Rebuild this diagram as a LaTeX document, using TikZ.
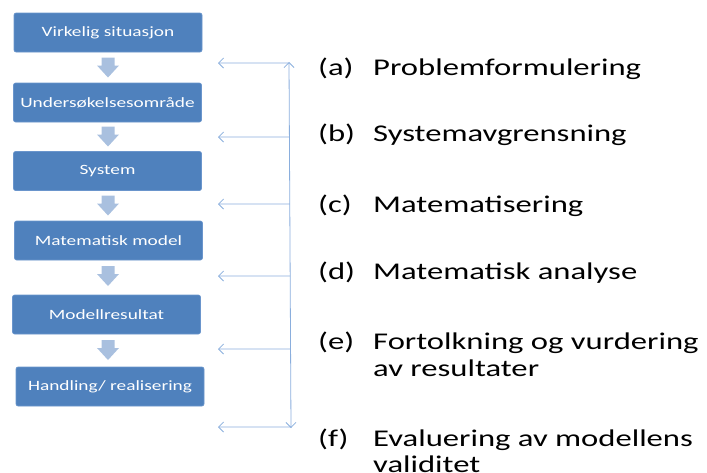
\documentclass[tikz,border=0pt]{standalone}
\usepackage{fontspec}
\setmainfont{Carlito}[FakeStretch=1.36]
\usetikzlibrary{arrows.meta,calc}
\definecolor{boxblue}{HTML}{4F81BD}
\definecolor{boxedge}{HTML}{6A95CC}
\definecolor{blockarr}{HTML}{A9C0DF}
\definecolor{linkblue}{HTML}{8AAEDD}
\tikzset{
  stagebox/.style={fill=boxblue, draw=boxedge, line width=0.6pt, rounded corners=2pt,
    minimum width=188pt, minimum height=39pt, inner sep=0pt, text=white,
    font=\fontsize{14.2}{16}\selectfont},
  blockfill/.style={fill=blockarr},
  link/.style={draw=linkblue, line width=0.8pt},
  linkarrow/.style={link, -{Straight Barb[length=5pt,width=10pt]}},
  lbl/.style={anchor=base west, inner sep=0pt, font=\fontsize{24}{27}\selectfont}
}
% block arrow: top centre coordinate name
\newcommand{\blockdown}[1]{%
  \fill[blockfill] ($(#1)+(-6.5,0)$) -- ($(#1)+(6.5,0)$) -- ($(#1)+(6.5,8)$) -- ($(#1)+(11,8)$)
    -- ($(#1)+(0,20)$) -- ($(#1)+(-11,8)$) -- ($(#1)+(-6.5,8)$) -- cycle;}
\begin{document}
\begin{tikzpicture}[x=1pt,y=-1pt]
\useasboundingbox (0,0) rectangle (707,472);
\clip (0,0) rectangle (707,472);
% stage boxes
\node[stagebox] (b1) at (108,32.5) {Virkelig situasjon};
\node[stagebox] (b2) at (107.5,102.5) {Undersøkelsesområde};
\node[stagebox] (b3) at (107.5,171) {System};
\node[stagebox] (b4) at (108.5,240.5) {Matematisk model};
\node[stagebox] (b5) at (106.5,314.5) {Modellresultat};
\node[stagebox] (b6) at (110,386.5) {Handling/ realisering};
% block arrows
\coordinate (d1) at (108,57.5);
\coordinate (d2) at (108,126.5);
\coordinate (d3) at (108,195.5);
\coordinate (d4) at (108,266);
\coordinate (d5) at (108,340);
\blockdown{d1}
\blockdown{d2}
\blockdown{d3}
\blockdown{d4}
\blockdown{d5}
% vertical feedback line
\coordinate (vt) at (289,62);
\coordinate (vb) at (291,428);
\draw[link, {Straight Barb[length=5pt,width=10pt]}-{Straight Barb[length=5pt,width=10pt]}] (vt) -- (vb);
\foreach \n/\y in {a/63, b/137, c/204, d/276, e/349, f/427}{
  \coordinate (s\n) at ($(vt)!{(\y-62)/366}!(vb)$);
  \coordinate (t\n) at (218,\y);
  \draw[linkarrow] (s\n) -- (t\n);
}
% labels
\node[lbl] (la) at (318,75) {(a)};
\node[lbl] (ta) at (373,75) {Problemformulering};
\node[lbl] (lb) at (318,141) {(b)};
\node[lbl] (tb) at (373,141) {Systemavgrensning};
\node[lbl] (lc) at (318,212) {(c)};
\node[lbl] (tc) at (373,212) {Matematisering};
\node[lbl] (ld) at (318,279) {(d)};
\node[lbl] (td) at (373,279) {Matematisk analyse};
\node[lbl] (le) at (318,349) {(e)};
\node[lbl] (te) at (373,349) {Fortolkning og vurdering};
\node[lbl] (te2) at (373,376) {av resultater};
\node[lbl] (lf) at (318,446) {(f)};
\node[lbl] (tf) at (373,446) {Evaluering av modellens};
\node[lbl] (tf2) at (373,472) {validitet};
\end{tikzpicture}
\end{document}
